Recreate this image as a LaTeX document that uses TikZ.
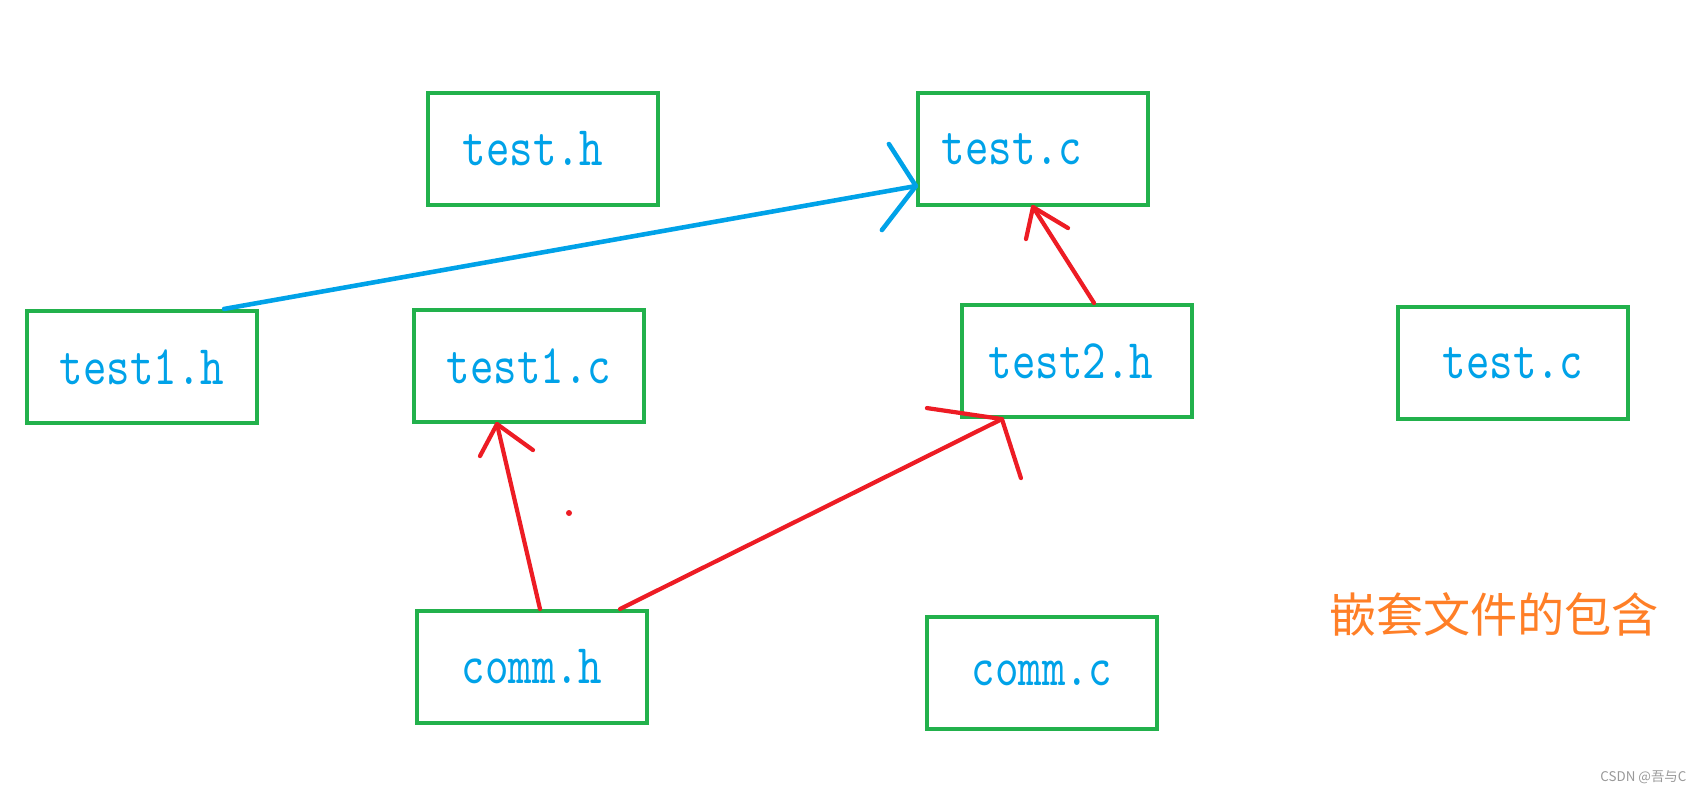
\documentclass[tikz,border=0pt]{standalone}
\usepackage{fontspec}
\newfontfamily\cjkfont{Noto Sans CJK SC}
\newfontfamily\fnamefont[FakeStretch=0.8]{lmmono10-regular.otf}
\usetikzlibrary{arrows.meta}
\definecolor{boxgreen}{HTML}{22B14C}
\definecolor{fileblue}{HTML}{00A2E8}
\definecolor{incred}{HTML}{ED1C24}
\definecolor{incorange}{HTML}{FF7F27}

\begin{document}
\begin{tikzpicture}[
        % one unit = one pixel of the sketch
        x=0.01cm, y=-0.01cm,
        % green boxes with blue file names
        filebox/.style={draw=boxgreen, line width=1.15pt, rectangle, minimum width=2.3cm, minimum height=1.12cm, inner sep=0pt, text=fileblue, font=\fnamefont\fontsize{15.9}{16}\selectfont},
        % hand drawn strokes
        blueline/.style={draw=fileblue, line width=1.3pt, line cap=round, line join=round},
        redline/.style={draw=incred, line width=1.2pt, line cap=round, line join=round}
    ]
        \useasboundingbox (0,0) rectangle (1700,793);

        % Boxes
        \node[filebox] (testh) at (543,149) {test.h\hspace*{0.2cm}};
        \node[filebox] (testc) at (1033,149) {test.c\hspace*{0.42cm}};
        \node[filebox] (testoneh) at (142,367) {test1.h};
        \node[filebox] (testonec) at (529,366) {test1.c};
        \node[filebox] (testtwoh) at (1077,361) {test2.h\hspace*{0.12cm}};
        \node[filebox] (testcright) at (1513,363) {test.c};
        \node[filebox] (commh) at (532,667) {comm.h};
        \node[filebox] (commc) at (1042,673) {comm.c};

        % Arrow tips on the boxes
        \coordinate (bluetip) at ([yshift=-0.37cm]testc.west);
        \coordinate (redtipa) at (testc.south);
        \coordinate (redtipb) at ([xshift=-0.32cm]testonec.south);
        \coordinate (redtipc) at ([xshift=0.42cm]testtwoh.south west);

        % Arrows (barbs drawn by hand)
        \draw[blueline] ([xshift=-0.35cm]testoneh.north east) -- (bluetip);
        \draw[blueline] (bluetip) ++(-27,-42) -- (bluetip) -- ++(-34,44);

        \draw[redline] ([xshift=0.17cm]testtwoh.north) -- (redtipa);
        \draw[redline] (redtipa) ++(-7,32) -- (redtipa) -- ++(35,21);

        \draw[redline] ([xshift=0.08cm]commh.north) -- (redtipb);
        \draw[redline] (redtipb) ++(-17,32) -- (redtipb) -- ++(36,26);

        \draw[redline] ([xshift=-0.29cm]commh.north east) -- (redtipc);
        \draw[redline] (redtipc) ++(-75,-11) -- (redtipc) -- ++(19,59);

        \fill[incred] (569,513) circle (0.03cm);

        % Caption and mark
        \node[text=incorange, font=\cjkfont\fontsize{13.4}{14}\selectfont] (caption) at (1494,614) {嵌套文件的包含};
        \node[anchor=east, inner sep=0pt, text=gray!80, font=\cjkfont\fontsize{3.8}{4}\selectfont] (mark) at (1687,777) {CSDN @吾与C};

    \end{tikzpicture}
\end{document}
